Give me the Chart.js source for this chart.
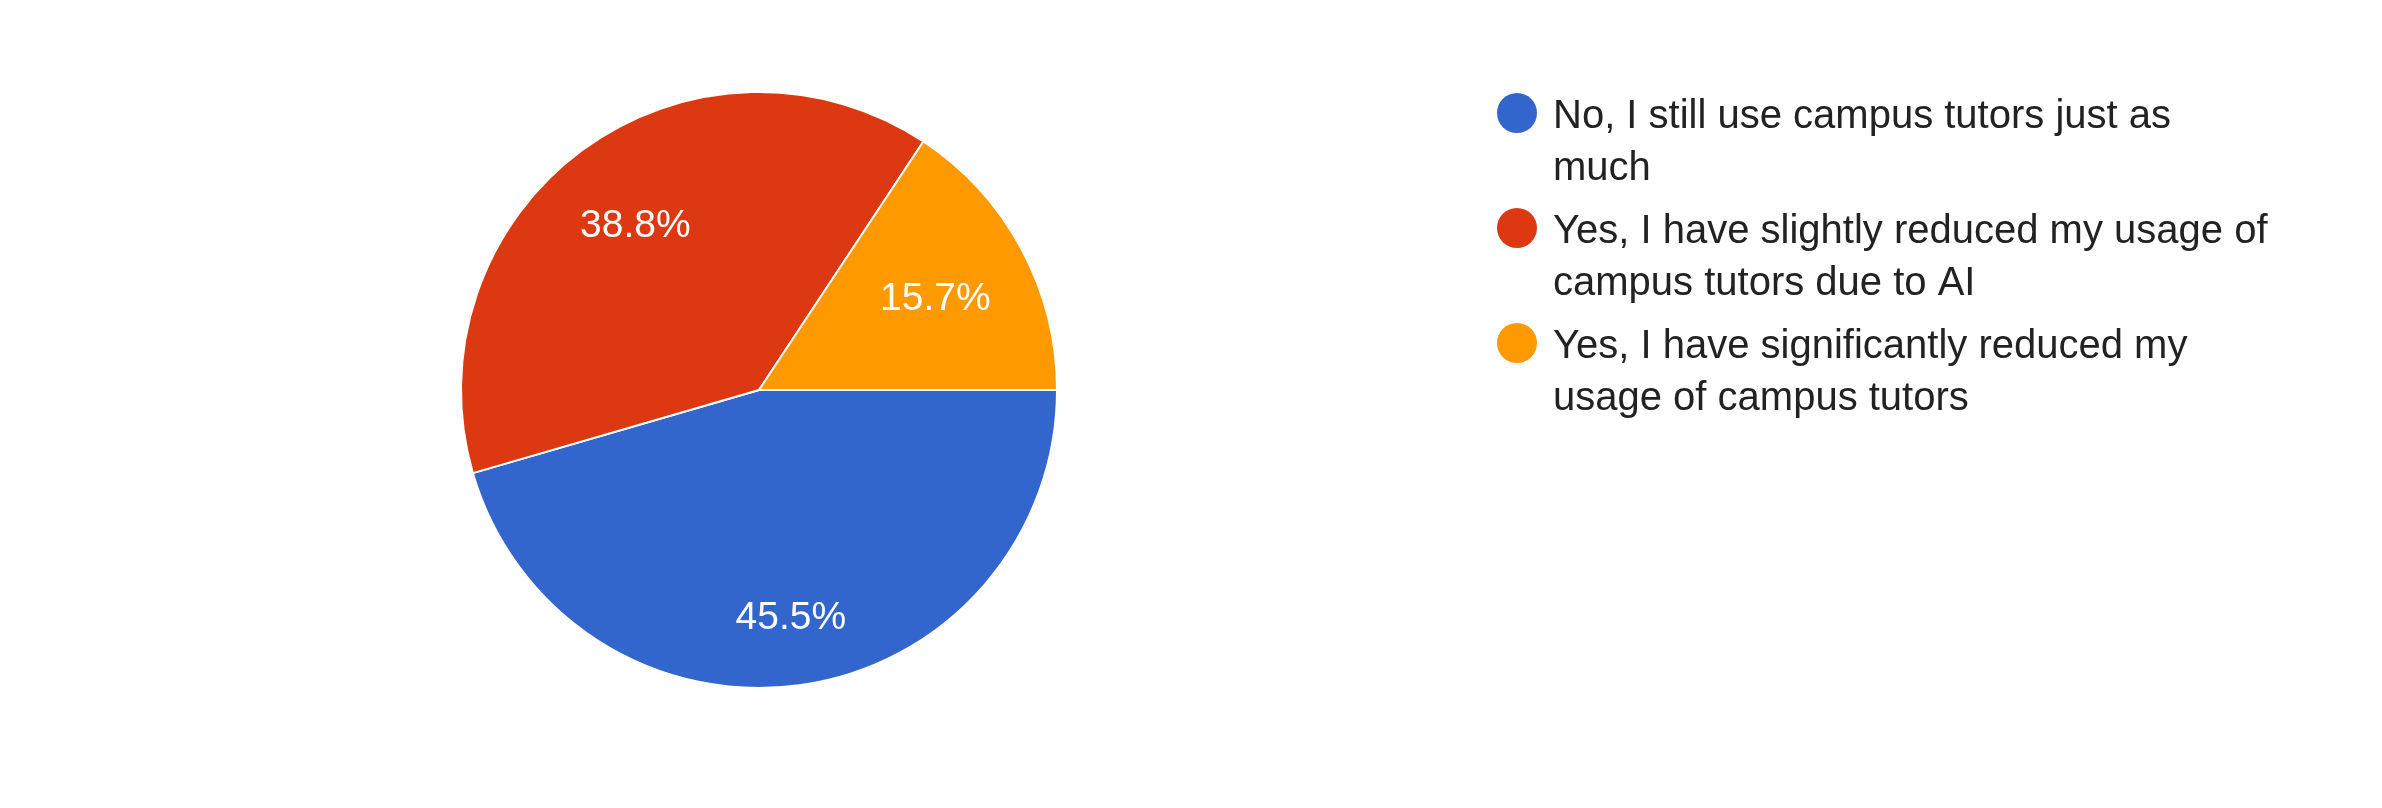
<!DOCTYPE html>
<html>
<head>
<meta charset="utf-8">
<script src="https://cdn.jsdelivr.net/npm/chart.js@4.4.1/dist/chart.umd.min.js"></script>
<style>
  html, body { margin: 0; padding: 0; background: #ffffff; }
  #wrap { position: relative; width: 2382px; height: 808px; }
</style>
</head>
<body>
<div id="wrap"><canvas id="c"></canvas></div>
<script>
// ---- data ----
const categories = [
  ["No, I still use campus tutors just as", "much"],
  ["Yes, I have slightly reduced my usage of", "campus tutors due to AI"],
  ["Yes, I have significantly reduced my", "usage of campus tutors"]
];
const percentages = [45.5, 38.8, 15.7];
const sliceColors = ["#3366CC", "#DC3912", "#FF9900"];

// ---- plugins ----
const sliceLabels = {
  id: 'sliceLabels',
  afterDatasetsDraw(chart, args, opts) {
    const ctx = chart.ctx;
    const meta = chart.getDatasetMeta(0);
    const ds = chart.data.datasets[0];
    ctx.save();
    ctx.font = opts.font;
    ctx.fillStyle = opts.color;
    ctx.textAlign = 'center';
    ctx.textBaseline = 'middle';
    meta.data.forEach((arc, i) => {
      const p = arc.getProps(['x', 'y', 'startAngle', 'endAngle', 'outerRadius'], true);
      const mid = (p.startAngle + p.endAngle) / 2;
      const r = p.outerRadius * opts.radiusFractions[i];
      ctx.fillText(ds.data[i].toFixed(1) + '%', p.x + Math.cos(mid) * r, p.y + Math.sin(mid) * r + opts.yShift);
    });
    ctx.restore();
  }
};

const sideLegend = {
  id: 'sideLegend',
  afterDraw(chart, args, opts) {
    const ctx = chart.ctx;
    const labels = chart.data.labels;
    const colors = chart.data.datasets[0].backgroundColor;
    ctx.save();
    ctx.font = opts.font;
    ctx.textAlign = 'left';
    ctx.textBaseline = 'alphabetic';
    labels.forEach((lab, i) => {
      const base = opts.top + i * opts.itemStep;
      ctx.beginPath();
      ctx.fillStyle = colors[i];
      ctx.arc(opts.markerX, base - opts.markerLift, opts.markerR, 0, Math.PI * 2);
      ctx.fill();
      ctx.fillStyle = opts.color;
      const lines = Array.isArray(lab) ? lab : [lab];
      lines.forEach((ln, j) => ctx.fillText(ln, opts.textX, base + j * opts.lineStep));
    });
    ctx.restore();
  }
};

new Chart(document.getElementById('c'), {
  type: 'pie',
  data: {
    labels: categories,
    datasets: [{
      data: percentages,
      backgroundColor: sliceColors,
      borderColor: '#ffffff',
      borderWidth: 2,
      hoverOffset: 0
    }]
  },
  options: {
    responsive: true,
    maintainAspectRatio: false,
    animation: false,
    rotation: 90,
    radius: 298,
    layout: { padding: { left: 0, top: 0, right: 864, bottom: 28 } },
    plugins: {
      legend: { display: false },
      tooltip: { enabled: false },
      sliceLabels: {
        font: '39px "Liberation Sans", Arial, sans-serif',
        color: '#ffffff',
        radiusFractions: [0.76, 0.70, 0.672],
        yShift: 4
      },
      sideLegend: {
        font: '40px "Liberation Sans", Arial, sans-serif',
        color: '#222222',
        top: 128, itemStep: 115, lineStep: 52,
        markerX: 1517, markerR: 20, markerLift: 15,
        textX: 1553
      }
    }
  },
  plugins: [sliceLabels, sideLegend]
});
</script>
</body>
</html>
